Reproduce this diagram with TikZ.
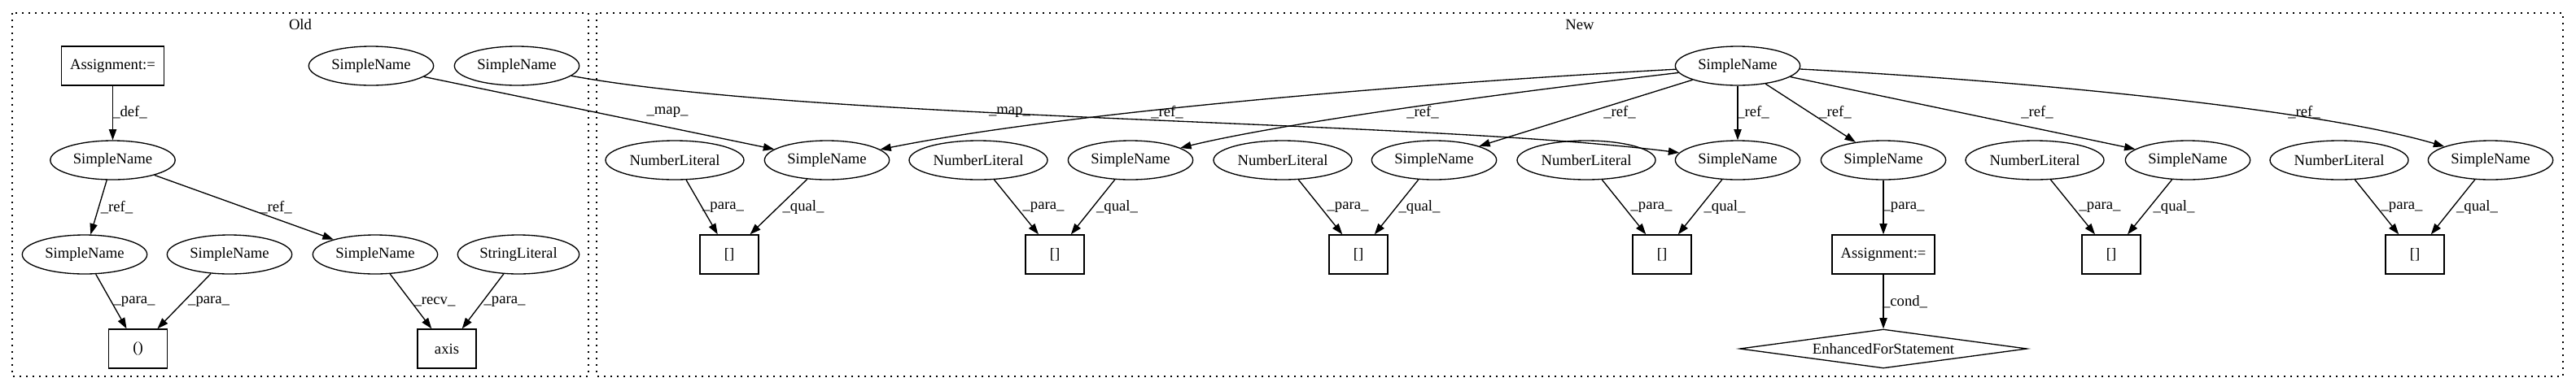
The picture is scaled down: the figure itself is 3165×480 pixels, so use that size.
\documentclass[tikz,border=0pt]{standalone}
\usepackage{fontspec}
\setmainfont{Liberation Serif}
\usetikzlibrary{shapes.geometric,arrows.meta}
\tikzset{
  every node/.style={font=\fontsize{14pt}{16pt}\selectfont, inner sep=0pt},
  ell/.style={draw, ellipse, minimum width=115pt, minimum height=36pt, line width=1pt},
  nlit/.style={ell, minimum width=127.5pt},
  slit/.style={ell, minimum width=112pt},
  sqbox/.style={draw, rectangle, minimum width=54pt, minimum height=36pt, line width=1pt},
  abox/.style={sqbox, minimum width=94.5pt},
  dia/.style={draw, diamond, shape aspect=7.36, minimum width=264.75pt, minimum height=36pt, line width=1pt},
  edge/.style={-{Triangle[length=10pt,width=7pt]}, line width=1pt},
  lab/.style={anchor=center},
  cluster/.style={line width=1pt, dash pattern=on 1.2pt off 4.8pt},
}
\begin{document}
\begin{tikzpicture}[x=0.75pt, y=-0.75pt]
\useasboundingbox (0,0) rectangle (3165,480);
% clusters
\draw[cluster] (15,16) rectangle (723,463);
\draw[cluster] (733,16) rectangle (3149,463);
\node (oldlab) at (369,30) {Old};
\node (newlab) at (1941,30) {New};

% Old nodes
\node[abox] (oa) at (138.5,81) {Assignment:=};
\node[ell] (os) at (138.5,197) {SimpleName};
\node[ell] (om1) at (456,81) {SimpleName};
\node[ell] (om2) at (635,81) {SimpleName};
\node[ell] (o1) at (104,313) {SimpleName};
\node[ell] (o2) at (282,313) {SimpleName};
\node[ell] (o3) at (461,313) {SimpleName};
\node[slit] (osl) at (637,313) {StringLiteral};
\node[sqbox] (op) at (169.5,429) {()};
\node[sqbox] (oax) at (549,429) {axis};

% New nodes
\node[ell] (nt) at (2135,81) {SimpleName};
\node[nlit] (nl1) at (829,197) {NumberLiteral};
\node[ell] (na) at (1016,197) {SimpleName};
\node[nlit] (nl2) at (1202,197) {NumberLiteral};
\node[ell] (nb) at (1389,197) {SimpleName};
\node[nlit] (nl3) at (1576,197) {NumberLiteral};
\node[ell] (nc) at (1762,197) {SimpleName};
\node[nlit] (nl4) at (1949,197) {NumberLiteral};
\node[ell] (nd) at (2135,197) {SimpleName};
\node[ell] (ne) at (2314,197) {SimpleName};
\node[nlit] (nl5) at (2500,197) {NumberLiteral};
\node[ell] (nf) at (2688,197) {SimpleName};
\node[nlit] (nl6) at (2874,197) {NumberLiteral};
\node[ell] (ng) at (3060,197) {SimpleName};
\node[sqbox] (b1) at (896,313) {[]};
\node[sqbox] (b2) at (1296,313) {[]};
\node[sqbox] (b3) at (1669,313) {[]};
\node[sqbox] (b4) at (2042,313) {[]};
\node[abox] (nas) at (2314,313) {Assignment:=};
\node[sqbox] (b5) at (2594,313) {[]};
\node[sqbox] (b6) at (2967,313) {[]};
\node[dia] (nfor) at (2314,429) {EnhancedForStatement};

% Old edges
\draw[edge] (oa) -- (os);
\draw[edge] (os) -- (o1);
\draw[edge] (os) -- (o3);
\draw[edge] (o1) -- (op);
\draw[edge] (o2) -- (op);
\draw[edge] (o3) -- (oax);
\draw[edge] (osl) -- (oax);

% map edges
\draw[edge] (om1) -- (na);
\draw[edge] (om2) .. controls (1000,148) and (1750,148) .. (nd);

% ref edges
\draw[edge] (nt) .. controls (1700,105) and (1300,140) .. (na);
\draw[edge] (nt) .. controls (1800,120) and (1560,155) .. (nb);
\draw[edge] (nt) -- (nc);
\draw[edge] (nt) -- (nd);
\draw[edge] (nt) -- (ne);
\draw[edge] (nt) -- (nf);
\draw[edge] (nt) .. controls (2500,100) and (2850,135) .. (ng);

% lower edges
\draw[edge] (nl1) -- (b1);
\draw[edge] (na) -- (b1);
\draw[edge] (nl2) -- (b2);
\draw[edge] (nb) -- (b2);
\draw[edge] (nl3) -- (b3);
\draw[edge] (nc) -- (b3);
\draw[edge] (nl4) -- (b4);
\draw[edge] (nd) -- (b4);
\draw[edge] (ne) -- (nas);
\draw[edge] (nas) -- (nfor);
\draw[edge] (nl5) -- (b5);
\draw[edge] (nf) -- (b5);
\draw[edge] (nl6) -- (b6);
\draw[edge] (ng) -- (b6);

% labels Old
\node[lab] (l1) at (159.5,138) {\_def\_};
\node[lab] (l2) at (143.5,255) {\_ref\_};
\node[lab] (l3) at (339,255) {\_ref\_};
\node[lab] (l4) at (165,371) {\_para\_};
\node[lab] (l5) at (256.6,371) {\_para\_};
\node[lab] (l6) at (534,371) {\_recv\_};
\node[lab] (l7) at (620,371) {\_para\_};
% labels New
\node[lab] (m1) at (820,138) {\_map\_};
\node[lab] (m2) at (1240.5,138) {\_map\_};
\node[lab] (r1) at (1434,138) {\_ref\_};
\node[lab] (r2) at (1748,138) {\_ref\_};
\node[lab] (r3) at (1990,138) {\_ref\_};
\node[lab] (r4) at (2154,138) {\_ref\_};
\node[lab] (r5) at (2255,138) {\_ref\_};
\node[lab] (r6) at (2503,138) {\_ref\_};
\node[lab] (r7) at (2831,138) {\_ref\_};
\node[lab] (p1) at (888.5,255) {\_para\_};
\node[lab] (q1) at (987,255) {\_qual\_};
\node[lab] (p2) at (1282,255) {\_para\_};
\node[lab] (q2) at (1372.5,255) {\_qual\_};
\node[lab] (p3) at (1656,255) {\_para\_};
\node[lab] (q3) at (1744,255) {\_qual\_};
\node[lab] (p4) at (2029,255) {\_para\_};
\node[lab] (q4) at (2119,255) {\_qual\_};
\node[lab] (p5) at (2339,255) {\_para\_};
\node[lab] (p6) at (2580,255) {\_para\_};
\node[lab] (q6) at (2671,255) {\_qual\_};
\node[lab] (p7) at (2951,255) {\_para\_};
\node[lab] (q7) at (3043.5,255) {\_qual\_};
\node[lab] (c1) at (2340.5,371) {\_cond\_};
\end{tikzpicture}
\end{document}
